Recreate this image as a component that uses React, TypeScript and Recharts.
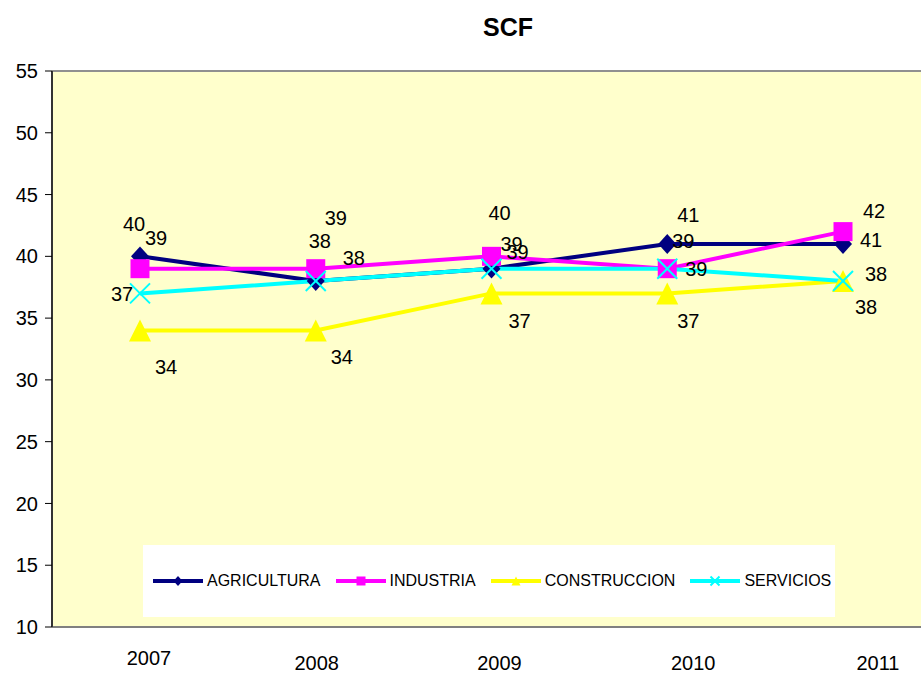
import { LineChart, Line, XAxis, YAxis, CartesianGrid, Legend, LabelList, ReferenceLine } from 'recharts'

const years = ['2007', '2008', '2009', '2010', '2011']
const agricultura = [40, 38, 39, 41, 41]
const industria = [39, 39, 40, 39, 42]
const construccion = [34, 34, 37, 37, 38]
const servicios = [37, 38, 39, 39, 38]
const yTicks = [10, 15, 20, 25, 30, 35, 40, 45, 50, 55]

const data = years.map((year, i) => ({
  year,
  agricultura: agricultura[i],
  industria: industria[i],
  construccion: construccion[i],
  servicios: servicios[i],
}))

const FONT = "'Liberation Sans', Arial, sans-serif"

// label offsets from each point, as they sit in the original sheet
const labelOffsets: Record<string, [number, number][]> = {
  agricultura: [[-6, -32], [4, -40], [20, -25], [21, -29], [28, -4]],
  industria: [[16, -31], [20, -51], [8, -43], [16, -28], [31, -21]],
  construccion: [[26, 37], [26, 27], [28, 28], [21, 28], [23, 26]],
  servicios: [[-18, 1], [38, -23], [26, -17], [29, 0], [33, -7]],
}

// x tick labels are not centred on the categories in the original
const tickDx = [9, 1, 8, 26, 35]
const tickDy = [31, 36, 36, 36, 36]

const series = [
  { key: 'agricultura', name: 'AGRICULTURA', color: '#000080', shape: 'diamond' },
  { key: 'industria', name: 'INDUSTRIA', color: '#FF00FF', shape: 'square' },
  { key: 'construccion', name: 'CONSTRUCCION', color: '#FFFF00', shape: 'triangle' },
  { key: 'servicios', name: 'SERVICIOS', color: '#00FFFF', shape: 'cross' },
]

function marker(shape: string, cx: number, cy: number, color: string, s: number, key?: string) {
  if (shape === 'diamond') {
    return <path key={key} d={`M${cx},${cy - s * 1.1}L${cx + s},${cy}L${cx},${cy + s * 1.1}L${cx - s},${cy}Z`} fill={color} />
  }
  if (shape === 'square') {
    return <rect key={key} x={cx - s} y={cy - s} width={s * 2} height={s * 2} fill={color} />
  }
  if (shape === 'triangle') {
    return <path key={key} d={`M${cx},${cy - s}L${cx + s},${cy + s}L${cx - s},${cy + s}Z`} fill={color} />
  }
  return (
    <g key={key}>
      <line x1={cx - s} y1={cy - s} x2={cx + s} y2={cy + s} stroke={color} strokeWidth={2} />
      <line x1={cx - s} y1={cy + s} x2={cx + s} y2={cy - s} stroke={color} strokeWidth={2} />
    </g>
  )
}

const dotSize: Record<string, number> = { diamond: 9, square: 9.5, triangle: 11, cross: 10 }

function renderLegend() {
  return (
    <div style={{ width: '100%', height: '100%', background: '#fff', display: 'flex', alignItems: 'center', paddingLeft: 10, boxSizing: 'border-box', fontFamily: FONT, fontSize: 16 }}>
      {series.map((s) => (
        <div key={s.key} style={{ display: 'flex', alignItems: 'center', marginRight: 15 }}>
          <svg width={50} height={14}>
            <line x1={0} y1={7} x2={50} y2={7} stroke={s.color} strokeWidth={4} />
            {marker(s.shape, 25, 7, s.color, 4.5)}
          </svg>
          <span style={{ marginLeft: 4, color: '#000' }}>{s.name}</span>
        </div>
      ))}
    </div>
  )
}

function XTick(props: any) {
  const { x, y, payload, index } = props
  return (
    <text x={x + tickDx[index]} y={y + tickDy[index]} textAnchor="middle" dominantBaseline="central" fontSize={20} fontFamily={FONT} fill="#000">
      {payload.value}
    </text>
  )
}

export default function App() {
  return (
    <div style={{ position: 'absolute', left: 0, top: 0, width: 921, height: 674, overflow: 'hidden', background: '#fff' }}>
      <LineChart width={940} height={674} data={data} margin={{ top: 71, right: 9, bottom: 0, left: 0 }}>
        <CartesianGrid horizontal={false} vertical={false} fill="#FFFFCC" stroke="none" />
        <ReferenceLine y={55} stroke="#909090" strokeWidth={2} />
        <XAxis
          dataKey="year"
          height={47}
          padding={{ left: 88, right: 88 }}
          tickLine={false}
          tickSize={0}
          tickMargin={0}
          axisLine={{ stroke: '#808080', strokeWidth: 2 }}
          tick={<XTick />}
          interval={0}
        />
        <YAxis
          width={52}
          domain={[10, 55]}
          ticks={yTicks}
          interval={0}
          tickSize={7}
          tickMargin={7}
          axisLine={{ stroke: '#333', strokeWidth: 2 }}
          tickLine={{ stroke: '#000' }}
          tick={{ fontSize: 20, fontFamily: FONT, fill: '#000' }}
        />
        {series.map((s) => (
          <Line
            key={s.key}
            dataKey={s.key}
            name={s.name}
            stroke={s.color}
            strokeWidth={4}
            isAnimationActive={false}
            dot={(p: any) => marker(s.shape, p.cx, p.cy, s.color, dotSize[s.shape], `${s.key}-${p.index}`)}
            activeDot={false}
          >
            <LabelList
              dataKey={s.key}
              content={(p: any) => {
                const off = labelOffsets[s.key][p.index] || [0, 0]
                return (
                  <text x={p.x + off[0]} y={p.y + off[1]} textAnchor="middle" dominantBaseline="central" fontSize={20} fontFamily={FONT} fill="#000">
                    {p.value}
                  </text>
                )
              }}
            />
          </Line>
        ))}
        <Legend
          layout="horizontal"
          verticalAlign="middle"
          align="center"
          content={renderLegend}
          wrapperStyle={{ left: 143, top: 545, width: 692, height: 72 }}
        />
        <text x={508} y={27} textAnchor="middle" dominantBaseline="central" fontSize={25} fontWeight="bold" fontFamily={FONT} fill="#000">
          SCF
        </text>
      </LineChart>
    </div>
  )
}
